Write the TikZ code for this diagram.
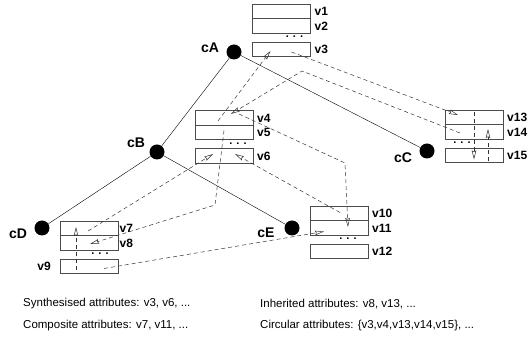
\documentclass[tikz,border=0pt]{standalone}
\usepackage{fontspec}
\setmainfont{Liberation Sans}
\usepackage{tikz}
\usetikzlibrary{arrows.meta,positioning,calc}
\definecolor{boxgray}{rgb}{0.30,0.30,0.30}
\definecolor{depgray}{rgb}{0.20,0.20,0.20}

\begin{document}
\begin{tikzpicture}[x=1pt,y=-1pt,
   attr/.style={draw=boxgray,semithick,minimum width=58pt,minimum height=14.5pt,inner sep=0pt,outer sep=0pt},
   vname/.style={font=\fontsize{12}{12}\selectfont\bfseries,inner sep=0pt},
   more/.style={font=\fontsize{11}{11}\selectfont\bfseries,inner sep=0pt},
   obj/.style={circle,fill=black,minimum size=15pt,inner sep=0pt},
   objname/.style={font=\fontsize{14}{14}\selectfont\bfseries,inner sep=0pt},
   dep/.style={draw=depgray,line width=0.5pt,dash pattern=on 4pt off 3pt,-{Stealth[open,length=9pt,width=4.5pt,inset=1pt]}},
   legend/.style={anchor=west,font=\fontsize{11.5}{12}\selectfont,inner sep=0pt}]
  \useasboundingbox (0,0) rectangle (528,352);
  \node[attr] (v1) at (281.5,11.5) {};
  \node[attr,below=0 of v1] (v2) {};
  \node[attr,below=9pt of v2] (v3) {};
  \node[attr] (v4) at (224,118) {};
  \node[attr,below=0 of v4] (v5) {};
  \node[attr,below=9pt of v5] (v6) {};
  \node[attr] (v7) at (89,228.5) {};
  \node[attr,below=0 of v7] (v8) {};
  \node[attr,below=9pt of v8] (v9) {};
  \node[attr] (v10) at (339,213.5) {};
  \node[attr,below=0 of v10] (v11) {};
  \node[attr,below=9pt of v11] (v12) {};
  \node[attr] (v13) at (474,117.5) {};
  \node[attr,below=0 of v13] (v14) {};
  \node[attr,below=9pt of v14] (v15) {};
  \foreach \v in {1,2,3,4,5,6,10,11,12,13,14,15}
    \node[vname,right=4pt of v\v] (l\v) {v\v};
  \node[vname,right=1.5pt of v7] (l7) {v7};
  \node[vname,right=1.5pt of v8] (l8) {v8};
  \node[vname,left=9pt of v9] (l9) {v9};
  \node[more] (d1) at ($(v2.south)+(13,3.5)$) {. . .};
  \node[more] (d2) at ($(v5.south)+(14,3.5)$) {. . .};
  \node[more] (d3) at ($(v8.south)+(11,3.5)$) {. . .};
  \node[more] (d4) at ($(v11.south)+(9,3.5)$) {. . .};
  \node[more] (d5) at ($(v14.south)+(-12,3.5)$) {. . .};
  \node[obj] (cA) at (234,52) {};
  \node[obj] (cB) at (157,152) {};
  \node[obj] (cC) at (427,151) {};
  \node[obj] (cD) at (42,228) {};
  \node[obj] (cE) at (292,228) {};
  \node[objname] (nA) at (210,48) {cA};
  \node[objname] (nB) at (136,143) {cB};
  \node[objname] (nC) at (403,158) {cC};
  \node[objname] (nD) at (18,234) {cD};
  \node[objname] (nE) at (266,233) {cE};
  \draw[thin] (cA) -- (cB);
  \draw[thin] (cA) -- (cC);
  \draw[thin] (cB) -- (cD);
  \draw[thin] (cB) -- (cE);
  \coordinate (k14) at (302,71);
  \coordinate (k5) at (215,205);
  \coordinate (k4) at (345,163);
  \draw[dep] ($(v3)+(10,2.5)$) -- ($(v13)+(-16,-2.5)$);
  \draw[dep] ($(v14)+(-14,1)$) -- (k14) -- ($(v4)+(7,-4)$);
  \draw[dep] ($(v13)+(0,-5.5)$) -- ($(v15)+(0,4)$);
  \draw[dep] ($(v15)+(14,6)$) -- ($(v14)+(14,-3)$);
  \draw[dep] ($(v4)+(-6,3)$) -- ($(v3)+(-11,1.5)$);
  \draw[dep] ($(v5)+(0,-2)$) -- (k5) -- ($(v8)+(1,1)$);
  \draw[dep] ($(v7)+(-1,2.5)$) -- ($(v6)+(-11,-2)$);
  \draw[dep] ($(v9)+(-13,4)$) -- ($(v7)+(-13,-1.5)$);
  \draw[dep] ($(v9)+(15,2)$) -- ($(v11)+(-15,3.5)$);
  \draw[dep] ($(v10)+(1,-1)$) -- ($(v6)+(11,-2)$);
  \draw[dep] ($(v4)+(15,-4)$) -- (k4) -- ($(v11)+(9,-1)$);
  \node[legend] (t1) at (23,304) {Synthesised attributes: v3, v6, ...};
  \node[legend] (t2) at (23,326) {Composite attributes: v7, v11, ...};
  \node[legend] (t3) at (260,304) {Inherited attributes: v8, v13, ...};
  \node[legend] (t4) at (260,326) {Circular attributes: \{v3,v4,v13,v14,v15\}, ...};
\end{tikzpicture}
\end{document}
